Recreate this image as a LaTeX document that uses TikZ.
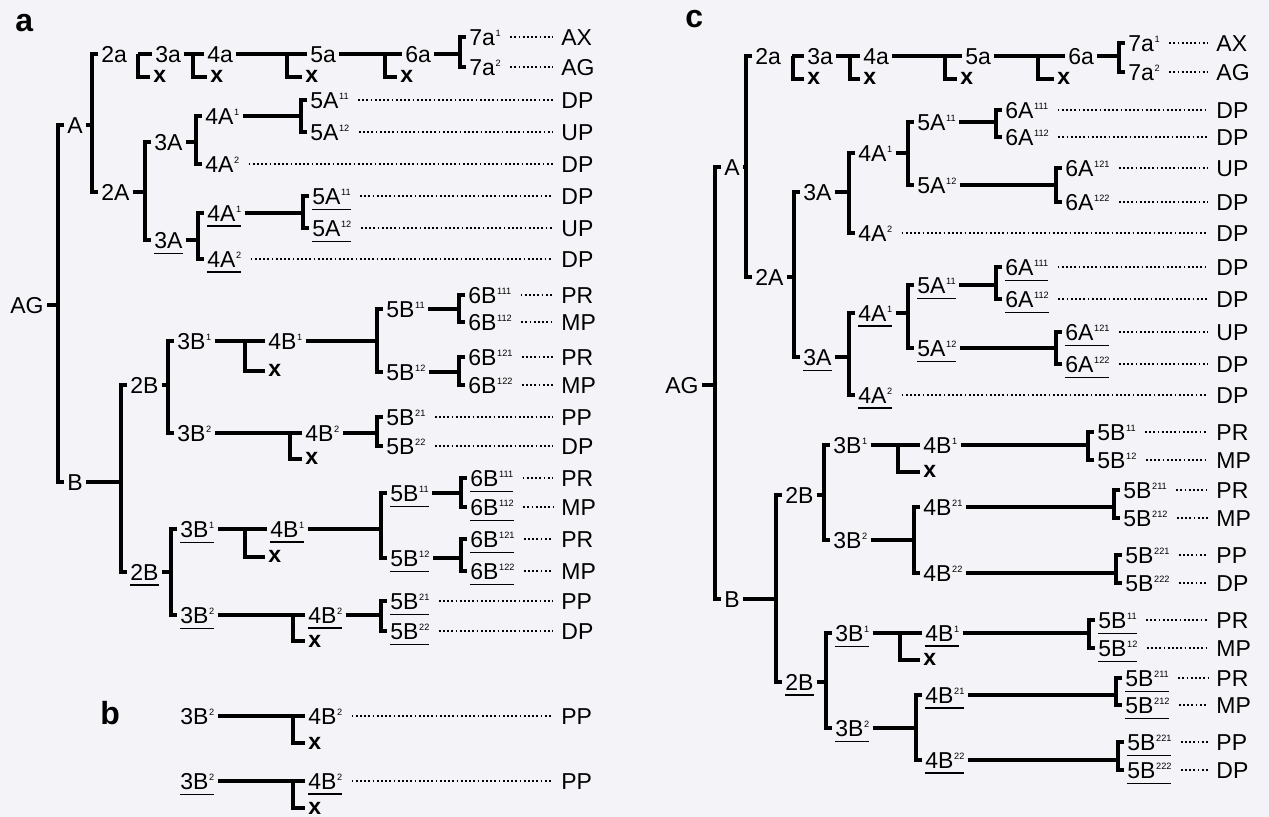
\documentclass[tikz,border=0pt]{standalone}
\usepackage{fontspec}
\setmainfont{Liberation Sans}
\usepackage{tikz}
\usetikzlibrary{calc}
\definecolor{paper}{HTML}{F4F4F8}
% cell name with a small raised index
\newcommand{\gen}[2]{#1\kern0.3pt\raisebox{4.4pt}{\fontsize{4.6}{5}\selectfont #2}}
% underlined cell name
\newcommand{\und}[1]{\vtop{\hbox{#1}\kern2pt\hrule height 0.9pt}}
% bracket: parent, upper daughter, lower daughter
\newcommand{\fork}[3]{%
  \draw[tree] (#2.west) -- ++(-3pt,0) coordinate (#2v) |- (#3.west);
  \draw[tree] (#1.east) -- (#1.east -| #2v);}
% dying sister: [bar options] parent, daughter, dead cell, depth of the drop
\newcommand{\dead}[5][]{%
  \draw[tree,#1] (#2.east) -- (#2.east -| #3.west);
  \draw[tree] (#4.west) -- ++(-#5,0) coordinate (#4v) -- (#4v |- #2.east);}
% fate at the right column
\newcommand{\fate}[3]{%
  \node[lab] (f#1) at (#1.center -| #2) {#3};
  \draw[fateline] (#1.east) -- (f#1.west);}
\tikzset{
  % ---- labels ---------------------------------------------------------
  lab/.style={anchor=west, inner xsep=1.5pt, inner ysep=0pt,
    text height=8.3pt, text depth=0pt, font=\fontsize{11.5}{13}\selectfont},
  deadcell/.style={lab, text height=6pt,
    font=\fontsize{11.5}{13}\selectfont\bfseries},
  panel/.style={anchor=west, inner sep=0pt,
    font=\fontsize{16}{18}\selectfont\bfseries},
  % ---- lines ----------------------------------------------------------
  tree/.style={line width=1.6pt},
  fateline/.style={line width=0.9pt, dash pattern=on 0.9pt off 1.2pt,
    shorten <=3pt, shorten >=2.5pt},
}
\begin{document}
\begin{tikzpicture}[x=0.5pt, y=-0.5pt]
\fill[paper] (0,0) rectangle (1269,817);
\useasboundingbox (0,0) rectangle (1269,817);
\coordinate (acol) at (558,0);
\coordinate (ccol) at (1213,0);

% ---- panel a ----------------------------------------------------------
\node[panel] (lbla) at (15,23) {a};
\node[lab] (aAG) at (7,305) {AG};
\node[lab] (aA) at (64,125) {A};
\node[lab] (aB) at (64,482) {B};
\fork{aAG}{aA}{aB}

% top row
\node[lab] (a2a) at (98,54) {2a};
\node[lab] (a2A) at (98,192) {2A};
\fork{aA}{a2a}{a2A}
\node[lab] (a3a) at (152,54) {3a};
\node[deadcell] (ax1) at (150,77) {x};
\node[lab] (a4a) at (204,54) {4a};
\node[deadcell] (ax2) at (207,77) {x};
\node[lab] (a5a) at (307,54) {5a};
\node[deadcell] (ax3) at (302,77) {x};
\node[lab] (a6a) at (402,54) {6a};
\node[deadcell] (ax4) at (397,77) {x};
\node[lab] (a7a1) at (466,37) {\gen{7a}{1}};
\node[lab] (a7a2) at (466,67) {\gen{7a}{2}};
\dead[shorten <=4pt]{a2a}{a3a}{ax1}{6pt}
\dead{a3a}{a4a}{ax2}{7pt}
\dead{a4a}{a5a}{ax3}{7.5pt}
\dead{a5a}{a6a}{ax4}{6pt}
\fork{a6a}{a7a1}{a7a2}
\fate{a7a1}{acol}{AX}
\fate{a7a2}{acol}{AG}

% 2A branch
\node[lab] (a3A) at (151,142) {3A};
\node[lab] (a3Au) at (151,240) {\und{3A}};
\fork{a2A}{a3A}{a3Au}
\node[lab] (a4A1) at (202,116) {\gen{4A}{1}};
\node[lab] (a4A2) at (202,164) {\gen{4A}{2}};
\fork{a3A}{a4A1}{a4A2}
\node[lab] (a5A11) at (307,100) {\gen{5A}{11}};
\node[lab] (a5A12) at (307,132) {\gen{5A}{12}};
\fork{a4A1}{a5A11}{a5A12}
\fate{a5A11}{acol}{DP}
\fate{a5A12}{acol}{UP}
\fate{a4A2}{acol}{DP}
\node[lab] (a4A1u) at (204,213) {\und{\gen{4A}{1}}};
\node[lab] (a4A2u) at (204,259) {\und{\gen{4A}{2}}};
\fork{a3Au}{a4A1u}{a4A2u}
\node[lab] (a5A11u) at (309,196) {\und{\gen{5A}{11}}};
\node[lab] (a5A12u) at (309,228) {\und{\gen{5A}{12}}};
\fork{a4A1u}{a5A11u}{a5A12u}
\fate{a5A11u}{acol}{DP}
\fate{a5A12u}{acol}{UP}
\fate{a4A2u}{acol}{DP}

% B branch
\node[lab] (a2B) at (127,385) {2B};
\node[lab] (a2Bu) at (127,572) {\und{2B}};
\fork{aB}{a2B}{a2Bu}
\node[lab] (a3B1) at (174,341) {\gen{3B}{1}};
\node[lab] (a3B2) at (174,433) {\gen{3B}{2}};
\fork{a2B}{a3B1}{a3B2}
\node[lab] (a4B1) at (265,341) {\gen{4B}{1}};
\node[deadcell] (ax5) at (265,371) {x};
\dead{a3B1}{a4B1}{ax5}{10pt}
\node[lab] (a5B11) at (383,309) {\gen{5B}{11}};
\node[lab] (a5B12) at (383,372) {\gen{5B}{12}};
\fork{a4B1}{a5B11}{a5B12}
\node[lab] (a6B111) at (465,295) {\gen{6B}{111}};
\node[lab] (a6B112) at (465,322) {\gen{6B}{112}};
\fork{a5B11}{a6B111}{a6B112}
\node[lab] (a6B121) at (465,357) {\gen{6B}{121}};
\node[lab] (a6B122) at (465,385) {\gen{6B}{122}};
\fork{a5B12}{a6B121}{a6B122}
\fate{a6B111}{acol}{PR}
\fate{a6B112}{acol}{MP}
\fate{a6B121}{acol}{PR}
\fate{a6B122}{acol}{MP}
\node[lab] (a4B2) at (302,433) {\gen{4B}{2}};
\node[deadcell] (ax6) at (302,459) {x};
\dead{a3B2}{a4B2}{ax6}{6pt}
\node[lab] (a5B21) at (383,417) {\gen{5B}{21}};
\node[lab] (a5B22) at (383,446) {\gen{5B}{22}};
\fork{a4B2}{a5B21}{a5B22}
\fate{a5B21}{acol}{PP}
\fate{a5B22}{acol}{DP}

\node[lab] (a3B1u) at (177,529) {\und{\gen{3B}{1}}};
\node[lab] (a3B2u) at (177,615) {\und{\gen{3B}{2}}};
\fork{a2Bu}{a3B1u}{a3B2u}
\node[lab] (a4B1u) at (267,529) {\und{\gen{4B}{1}}};
\node[deadcell] (ax7) at (265,557) {x};
\dead{a3B1u}{a4B1u}{ax7}{10pt}
\node[lab] (a5B11u) at (387,493) {\und{\gen{5B}{11}}};
\node[lab] (a5B12u) at (387,558) {\und{\gen{5B}{12}}};
\fork{a4B1u}{a5B11u}{a5B12u}
\node[lab] (a6B111u) at (467,478) {\und{\gen{6B}{111}}};
\node[lab] (a6B112u) at (467,507) {\und{\gen{6B}{112}}};
\fork{a5B11u}{a6B111u}{a6B112u}
\node[lab] (a6B121u) at (467,539) {\und{\gen{6B}{121}}};
\node[lab] (a6B122u) at (467,571) {\und{\gen{6B}{122}}};
\fork{a5B12u}{a6B121u}{a6B122u}
\fate{a6B111u}{acol}{PR}
\fate{a6B112u}{acol}{MP}
\fate{a6B121u}{acol}{PR}
\fate{a6B122u}{acol}{MP}
\node[lab] (a4B2u) at (305,615) {\und{\gen{4B}{2}}};
\node[deadcell] (ax8) at (305,641) {x};
\dead{a3B2u}{a4B2u}{ax8}{6pt}
\node[lab] (a5B21u) at (387,601) {\und{\gen{5B}{21}}};
\node[lab] (a5B22u) at (387,631) {\und{\gen{5B}{22}}};
\fork{a4B2u}{a5B21u}{a5B22u}
\fate{a5B21u}{acol}{PP}
\fate{a5B22u}{acol}{DP}

% ---- panel b ----------------------------------------------------------
\node[panel] (lblb) at (100,713) {b};
\node[lab] (b3B2) at (177,716) {\gen{3B}{2}};
\node[lab] (b4B2) at (305,716) {\gen{4B}{2}};
\node[deadcell] (bx1) at (305,743) {x};
\dead{b3B2}{b4B2}{bx1}{6pt}
\fate{b4B2}{acol}{PP}
\node[lab] (b3B2u) at (177,781) {\und{\gen{3B}{2}}};
\node[lab] (b4B2u) at (305,781) {\und{\gen{4B}{2}}};
\node[deadcell] (bx2) at (305,808) {x};
\dead{b3B2u}{b4B2u}{bx2}{6pt}
\fate{b4B2u}{acol}{PP}

% ---- panel c ----------------------------------------------------------
\node[panel] (lblc) at (685,19) {c};
\node[lab] (cAG) at (662,385) {AG};
\node[lab] (cA) at (721,167) {A};
\node[lab] (cB) at (721,599) {B};
\fork{cAG}{cA}{cB}

% top row
\node[lab] (c2a) at (752,56) {2a};
\node[lab] (c2A) at (752,277) {2A};
\fork{cA}{c2a}{c2A}
\node[lab] (c3a) at (804,56) {3a};
\node[deadcell] (cx1) at (804,79) {x};
\node[lab] (c4a) at (860,56) {4a};
\node[deadcell] (cx2) at (860,79) {x};
\node[lab] (c5a) at (962,56) {5a};
\node[deadcell] (cx3) at (957,79) {x};
\node[lab] (c6a) at (1065,56) {6a};
\node[deadcell] (cx4) at (1054,79) {x};
\node[lab] (c7a1) at (1125,43) {\gen{7a}{1}};
\node[lab] (c7a2) at (1125,72) {\gen{7a}{2}};
\dead[shorten <=4pt]{c2a}{c3a}{cx1}{5.5pt}
\dead{c3a}{c4a}{cx2}{5pt}
\dead{c4a}{c5a}{cx3}{6pt}
\dead{c5a}{c6a}{cx4}{8pt}
\fork{c6a}{c7a1}{c7a2}
\fate{c7a1}{ccol}{AX}
\fate{c7a2}{ccol}{AG}

% 2A branch
\node[lab] (c3A) at (800,192) {3A};
\node[lab] (c3Au) at (800,357) {\und{3A}};
\fork{c2A}{c3A}{c3Au}
\node[lab] (c4A1) at (855,153) {\gen{4A}{1}};
\node[lab] (c4A2) at (855,233) {\gen{4A}{2}};
\fork{c3A}{c4A1}{c4A2}
\node[lab] (c5A11) at (914,122) {\gen{5A}{11}};
\node[lab] (c5A12) at (914,185) {\gen{5A}{12}};
\fork{c4A1}{c5A11}{c5A12}
\node[lab] (c6A111) at (1002,110) {\gen{6A}{111}};
\node[lab] (c6A112) at (1002,137) {\gen{6A}{112}};
\fork{c5A11}{c6A111}{c6A112}
\node[lab] (c6A121) at (1062,168) {\gen{6A}{121}};
\node[lab] (c6A122) at (1062,202) {\gen{6A}{122}};
\fork{c5A12}{c6A121}{c6A122}
\fate{c6A111}{ccol}{DP}
\fate{c6A112}{ccol}{DP}
\fate{c6A121}{ccol}{UP}
\fate{c6A122}{ccol}{DP}
\fate{c4A2}{ccol}{DP}
\node[lab] (c4A1u) at (855,313) {\und{\gen{4A}{1}}};
\node[lab] (c4A2u) at (855,395) {\und{\gen{4A}{2}}};
\fork{c3Au}{c4A1u}{c4A2u}
\node[lab] (c5A11u) at (914,285) {\und{\gen{5A}{11}}};
\node[lab] (c5A12u) at (914,348) {\und{\gen{5A}{12}}};
\fork{c4A1u}{c5A11u}{c5A12u}
\node[lab] (c6A111u) at (1002,267) {\und{\gen{6A}{111}}};
\node[lab] (c6A112u) at (1002,299) {\und{\gen{6A}{112}}};
\fork{c5A11u}{c6A111u}{c6A112u}
\node[lab] (c6A121u) at (1062,332) {\und{\gen{6A}{121}}};
\node[lab] (c6A122u) at (1062,364) {\und{\gen{6A}{122}}};
\fork{c5A12u}{c6A121u}{c6A122u}
\fate{c6A111u}{ccol}{DP}
\fate{c6A112u}{ccol}{DP}
\fate{c6A121u}{ccol}{UP}
\fate{c6A122u}{ccol}{DP}
\fate{c4A2u}{ccol}{DP}

% B branch
\node[lab] (c2B) at (782,495) {2B};
\node[lab] (c2Bu) at (782,682) {\und{2B}};
\fork{cB}{c2B}{c2Bu}
\node[lab] (c3B1) at (830,445) {\gen{3B}{1}};
\node[lab] (c3B2) at (830,540) {\gen{3B}{2}};
\fork{c2B}{c3B1}{c3B2}
\node[lab] (c4B1) at (920,445) {\gen{4B}{1}};
\node[deadcell] (cx5) at (920,472) {x};
\dead{c3B1}{c4B1}{cx5}{11pt}
\node[lab] (c5B11) at (1094,432) {\gen{5B}{11}};
\node[lab] (c5B12) at (1094,460) {\gen{5B}{12}};
\fork{c4B1}{c5B11}{c5B12}
\fate{c5B11}{ccol}{PR}
\fate{c5B12}{ccol}{MP}
\node[lab] (c4B21) at (920,507) {\gen{4B}{21}};
\node[lab] (c4B22) at (920,573) {\gen{4B}{22}};
\fork{c3B2}{c4B21}{c4B22}
\node[lab] (c5B211) at (1120,490) {\gen{5B}{211}};
\node[lab] (c5B212) at (1120,518) {\gen{5B}{212}};
\fork{c4B21}{c5B211}{c5B212}
\node[lab] (c5B221) at (1122,555) {\gen{5B}{221}};
\node[lab] (c5B222) at (1122,583) {\gen{5B}{222}};
\fork{c4B22}{c5B221}{c5B222}
\fate{c5B211}{ccol}{PR}
\fate{c5B212}{ccol}{MP}
\fate{c5B221}{ccol}{PP}
\fate{c5B222}{ccol}{DP}

\node[lab] (c3B1u) at (832,633) {\und{\gen{3B}{1}}};
\node[lab] (c3B2u) at (832,728) {\und{\gen{3B}{2}}};
\fork{c2Bu}{c3B1u}{c3B2u}
\node[lab] (c4B1u) at (922,633) {\und{\gen{4B}{1}}};
\node[deadcell] (cx6) at (920,660) {x};
\dead{c3B1u}{c4B1u}{cx6}{10pt}
\node[lab] (c5B11u) at (1095,620) {\und{\gen{5B}{11}}};
\node[lab] (c5B12u) at (1095,648) {\und{\gen{5B}{12}}};
\fork{c4B1u}{c5B11u}{c5B12u}
\fate{c5B11u}{ccol}{PR}
\fate{c5B12u}{ccol}{MP}
\node[lab] (c4B21u) at (922,695) {\und{\gen{4B}{21}}};
\node[lab] (c4B22u) at (922,760) {\und{\gen{4B}{22}}};
\fork{c3B2u}{c4B21u}{c4B22u}
\node[lab] (c5B211u) at (1122,678) {\und{\gen{5B}{211}}};
\node[lab] (c5B212u) at (1122,705) {\und{\gen{5B}{212}}};
\fork{c4B21u}{c5B211u}{c5B212u}
\node[lab] (c5B221u) at (1124,742) {\und{\gen{5B}{221}}};
\node[lab] (c5B222u) at (1124,770) {\und{\gen{5B}{222}}};
\fork{c4B22u}{c5B221u}{c5B222u}
\fate{c5B211u}{ccol}{PR}
\fate{c5B212u}{ccol}{MP}
\fate{c5B221u}{ccol}{PP}
\fate{c5B222u}{ccol}{DP}

\end{tikzpicture}
\end{document}
